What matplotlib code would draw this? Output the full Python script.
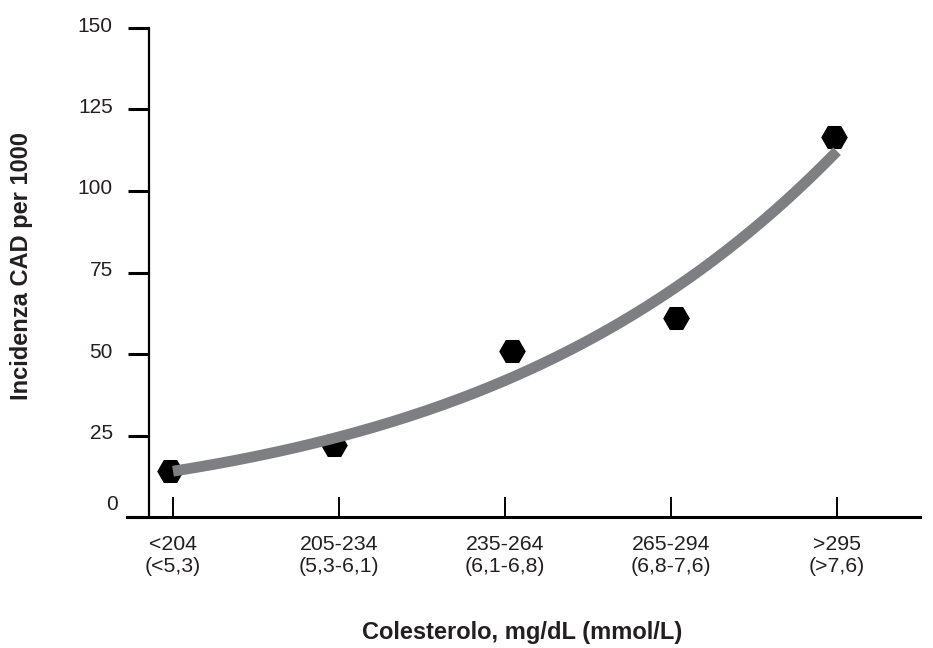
import numpy as np
import matplotlib
matplotlib.use("Agg")
import matplotlib.pyplot as plt
from matplotlib.transforms import ScaledTranslation

plt.rcParams['font.family'] = ['Liberation Sans', 'DejaVu Sans']

# ---- data ----
categories = ["<204\n(<5,3)", "205-234\n(5,3-6,1)", "235-264\n(6,1-6,8)",
              "265-294\n(6,8-7,6)", ">295\n(>7,6)"]
point_x = [-0.02, 0.97, 2.04, 3.03, 3.98]
point_y = [14.2, 22.1, 51.0, 61.0, 116.5]
trend_y = [14.2, 23.9, 42.5, 70.0, 111.5]
y_ticks = [0, 25, 50, 75, 100, 125, 150]
x_label = "Colesterolo, mg/dL (mmol/L)"
y_label = "Incidenza CAD per 1000"

W, H = 933, 648
fig = plt.figure(figsize=(W / 100, H / 100), dpi=100)
ax = fig.add_axes([127 / W, (H - 517) / H, (920 - 127) / W, (517 - 28) / H])

cat_idx = np.arange(len(categories))
# smooth trend curve through the trend values (log-polynomial fit)
coef = np.polyfit(cat_idx, np.log(trend_y), 2)
xs = np.linspace(cat_idx[0], cat_idx[-1], 200)
ax.plot(xs, np.exp(np.polyval(coef, xs)), color='#7e7f83', lw=7.8,
        solid_capstyle='butt', zorder=3)
ax.plot(point_x, point_y, linestyle='none', marker='H', ms=18,
        color='black', zorder=2)

ax.set_xlim(-0.277, 4.5)
ax.set_ylim(0, 150)

for s in ['top', 'right']:
    ax.spines[s].set_visible(False)
ax.spines['left'].set_position(('data', -0.145))
ax.spines['left'].set_linewidth(1.6)
ax.spines['bottom'].set_linewidth(2.2)

ax.set_yticks(y_ticks)
ax.set_yticklabels([str(v) for v in y_ticks])
ax.tick_params(axis='y', direction='out', length=15, width=2.2, pad=11,
               labelsize=15, colors='black', labelcolor='#231f20')
ax.set_xticks(cat_idx)
ax.set_xticklabels(categories, linespacing=1.2)
ax.tick_params(axis='x', direction='in', length=14.5, width=1.4, pad=13,
               labelsize=15.3, colors='black', labelcolor='#231f20')

for lab in ax.get_yticklabels():
    if lab.get_text() == '0':
        lab.set_transform(lab.get_transform() + ScaledTranslation(5 / 100, 14 / 100, fig.dpi_scale_trans))
    else:
        lab.set_transform(lab.get_transform() + ScaledTranslation(0, 4 / 100, fig.dpi_scale_trans))

fig.text(522 / W, 1 - 633 / H, x_label, ha='center', va='center',
         fontsize=17, fontweight='bold', color='#231f20')
fig.text(22 / W, 1 - 266 / H, y_label, ha='center', va='center',
         rotation=90, fontsize=17, fontweight='bold', color='#231f20')

fig.savefig('out.png', dpi=100)
